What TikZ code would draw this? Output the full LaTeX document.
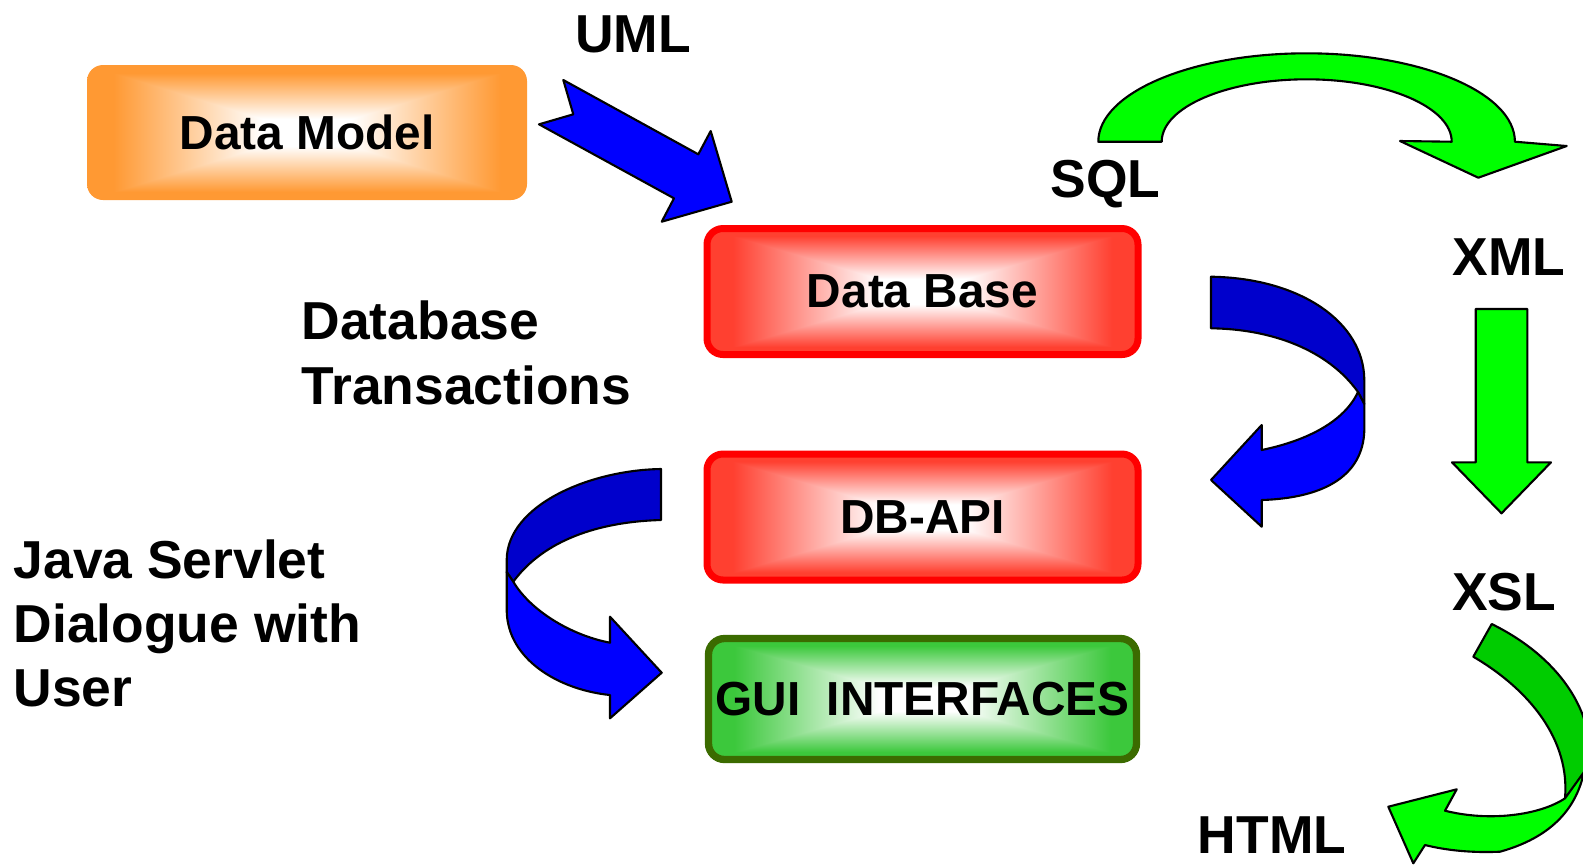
\documentclass[tikz,border=0pt]{standalone}
\usepackage{fontspec}
\setmainfont{Liberation Sans}
\usepackage{tikz}
\usetikzlibrary{positioning}
\definecolor{boxorange}{RGB}{255,153,51}
\definecolor{boxred}{RGB}{255,0,0}
\definecolor{boxgreen}{RGB}{59,107,0}
\definecolor{arrowblue}{RGB}{0,0,255}
\definecolor{arrowbluedark}{RGB}{0,0,204}
\definecolor{arrowgreen}{RGB}{0,255,0}
\definecolor{arrowgreendark}{RGB}{0,204,0}
% box glow: white centre, colour towards the edges (rectangular contours)
\pgfdeclarefunctionalshading{orangeglow}{\pgfpoint{-50bp}{-50bp}}{\pgfpoint{50bp}{50bp}}{}{
  abs exch abs 2 copy lt {exch} if pop
  5 sub 17 div dup 0 lt {pop 0} if dup 1 gt {pop 1} if
  dup dup 0 mul 1 exch sub 3 1 roll 0.4 mul 1 exch sub exch 0.8 mul 1 exch sub
}
\pgfdeclarefunctionalshading{redglow}{\pgfpoint{-50bp}{-50bp}}{\pgfpoint{50bp}{50bp}}{}{
  abs exch abs 2 copy lt {exch} if pop
  5 sub 17 div dup 0 lt {pop 0} if dup 1 gt {pop 1} if
  dup dup 0 mul 1 exch sub 3 1 roll 0.75 mul 1 exch sub exch 0.81 mul 1 exch sub
}
\pgfdeclarefunctionalshading{greenglow}{\pgfpoint{-50bp}{-50bp}}{\pgfpoint{50bp}{50bp}}{}{
  abs exch abs 2 copy lt {exch} if pop
  5 sub 17 div dup 0 lt {pop 0} if dup 1 gt {pop 1} if
  dup dup 0.765 mul 1 exch sub 3 1 roll 0.216 mul 1 exch sub exch 0.765 mul 1 exch sub
}
\tikzstyle{stage} = [rectangle, rounded corners=1.6mm, minimum width=43.1mm, minimum height=12.6mm, text centered, inner sep=0pt, font=\fontsize{13.6pt}{16pt}\selectfont\bfseries]
\tikzstyle{labeltext} = [inner sep=0pt, align=left, font=\fontsize{15.2pt}{18.3pt}\selectfont\bfseries]
\tikzstyle{blockarrow} = [draw=black, line width=0.6pt, line join=round]

\begin{document}
\begin{tikzpicture}[x=0.1mm, y=-0.1mm]
\path[use as bounding box, fill=white] (0,0) rectangle (1583,864);

% Boxes
\node (datamodel) [stage, minimum width=44mm, minimum height=13.5mm, shading=orangeglow] at (307,132.5) {Data Model};
\node (database) [stage, draw=boxred, line width=0.7mm, shading=redglow] at (922.5,291.5) {Data Base};
\node (dbapi) [stage, below of=database, node distance=22.55mm, draw=boxred, line width=0.7mm, shading=redglow] {DB-API};
\node (gui) [stage, below of=dbapi, node distance=18.2mm, minimum width=42.8mm, minimum height=12.1mm, draw=boxgreen, line width=0.73mm, shading=greenglow] {GUI\ \ INTERFACES};

% Labels (base = last line)
\node (uml) [labeltext, anchor=base] at (633,52.5) {UML};
\node (sql) [labeltext, anchor=base] at (1105.5,197) {SQL};
\node (xml) [labeltext, anchor=base] at (1509,275.6) {XML};
\node (xsl) [labeltext, anchor=base] at (1504,610.8) {XSL};
\node (html) [labeltext, anchor=base] at (1272,853) {HTML};
\node (transactions) [labeltext, anchor=base west] at (301,404) {Database\\Transactions};
\node (servlet) [labeltext, anchor=base west] at (13,706.7) {Java Servlet\\Dialogue with\\User};

% UML arrow
\fill[blockarrow, fill=arrowblue] (563.3,80) -- (698.3,154.3) -- (710.7,131) -- (731.7,201.7) -- (661.7,221.7) -- (674,198.3) -- (539,124.3) -- (573.3,114.3) -- cycle;

% SQL to XML
\fill[blockarrow, fill=arrowgreen] (1098.3,141.7) arc[start angle=180, end angle=360, x radius=208.3, y radius=88.4] -- (1566.7,146) -- (1478.3,177.7) -- (1400,141) -- (1451.7,141.7) arc[start angle=0, end angle=-180, x radius=145, y radius=62.4] -- cycle;

% XML to XSL
\fill[blockarrow, fill=arrowgreen] (1475.7,309) -- (1527.3,309) -- (1527.3,462.3) -- (1551,462.3) -- (1501.5,513.3) -- (1452,462.3) -- (1475.7,462.3) -- cycle;

% XSL to HTML
\fill[blockarrow, fill=arrowgreendark] (1491.7,624) .. controls (1565,660) and (1598,720) .. (1588,770) -- (1565,798.3) .. controls (1570,740) and (1530,690) .. (1473.3,656.7) -- cycle;
\fill[blockarrow, fill=arrowgreen] (1565,798.3) -- (1584,772) .. controls (1578,800) and (1560,835) .. (1500,851.7) .. controls (1470,853) and (1445,850) .. (1425,845) -- (1413.3,863.3) -- (1388.3,806.7) -- (1456.7,789.3) -- (1445,810.7) .. controls (1490,822) and (1540,815) .. cycle;

% Data Base to DB-API
\fill[blockarrow, fill=arrowbluedark] (1211,276.7) .. controls (1300,278) and (1364,322) .. (1364.3,380) -- (1364.3,404) -- (1358,392) .. controls (1328,350) and (1272,329) .. (1211,328.3) -- cycle;
\fill[blockarrow, fill=arrowblue] (1358,392) -- (1364.3,404) -- (1364.3,425) .. controls (1366,475) and (1325,498) .. (1261.7,500) -- (1261.7,526.7) -- (1211,480) -- (1261.7,425) -- (1261.7,450) .. controls (1310,440) and (1345,420) .. cycle;

% DB-API to GUI
\fill[blockarrow, fill=arrowbluedark] (661,469) .. controls (590,470) and (507,505) .. (506.7,560) -- (506.7,572) -- (513.3,581.7) .. controls (540,545) and (590,522) .. (661,520) -- cycle;
\fill[blockarrow, fill=arrowblue] (513.3,581.7) -- (506.7,572) -- (506.7,610) .. controls (507,660) and (560,690) .. (610,695) -- (610,718.3) -- (661.7,672.7) -- (610,616.7) -- (610,642.7) .. controls (570,635) and (530,610) .. cycle;
\end{tikzpicture}
\end{document}
